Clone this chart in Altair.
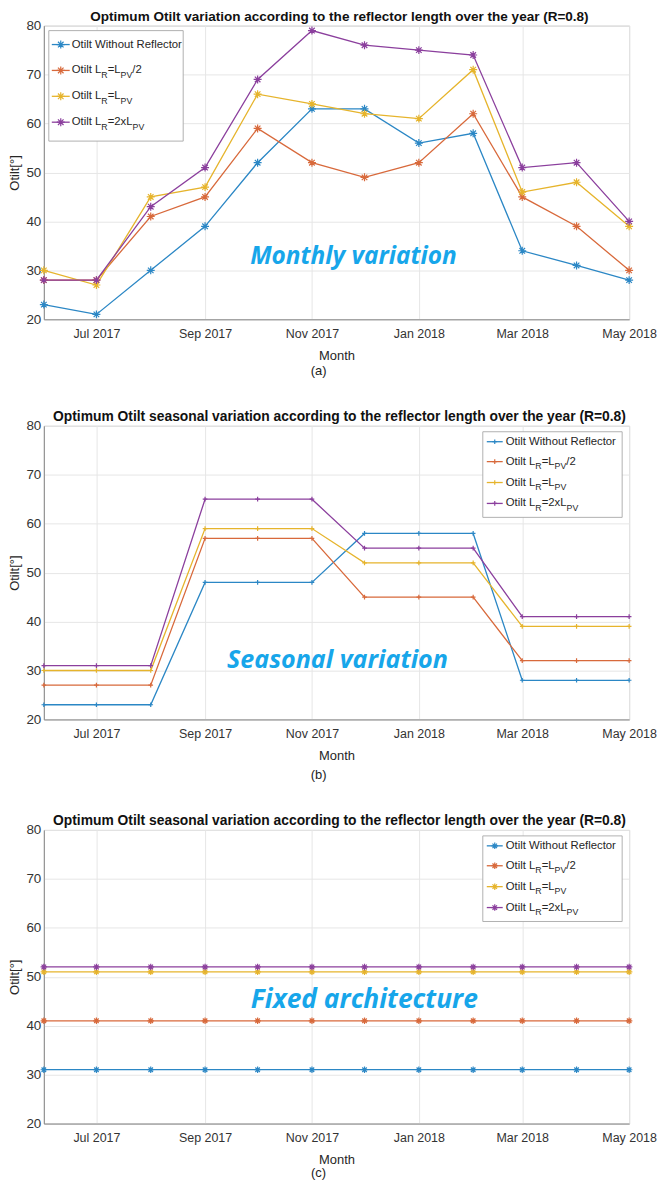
import altair as alt
import pandas as pd

# ---------------- data ----------------
months = ["2017-06-01", "2017-07-01", "2017-08-01", "2017-09-01", "2017-10-01", "2017-11-01",
          "2017-12-01", "2018-01-01", "2018-02-01", "2018-03-01", "2018-04-01", "2018-05-01"]
series_keys = ["s1", "s2", "s3", "s4"]
series_colors = ["#2b87c5", "#d8693b", "#e6b42c", "#8b3f9d"]
legend_labels = [
    [("Otilt Without Reflector", 0)],
    [("Otilt L", 0), ("R", 1), ("=L", 0), ("PV", 1), ("/2", 0)],
    [("Otilt L", 0), ("R", 1), ("=L", 0), ("PV", 1)],
    [("Otilt L", 0), ("R", 1), ("=2xL", 0), ("PV", 1)],
]

monthly_none = [23, 21, 30, 39, 52, 63, 63, 56, 58, 34, 31, 28]
monthly_half = [28, 28, 41, 45, 59, 52, 49, 52, 62, 45, 39, 30]
monthly_one = [30, 27, 45, 47, 66, 64, 62, 61, 71, 46, 48, 39]
monthly_two = [28, 28, 43, 51, 69, 79, 76, 75, 74, 51, 52, 40]

seasonal_none = [23, 23, 23, 48, 48, 48, 58, 58, 58, 28, 28, 28]
seasonal_half = [27, 27, 27, 57, 57, 57, 45, 45, 45, 32, 32, 32]
seasonal_one = [30, 30, 30, 59, 59, 59, 52, 52, 52, 39, 39, 39]
seasonal_two = [31, 31, 31, 65, 65, 65, 55, 55, 55, 41, 41, 41]

fixed_none = [31, 31, 31, 31, 31, 31, 31, 31, 31, 31, 31, 31]
fixed_half = [41, 41, 41, 41, 41, 41, 41, 41, 41, 41, 41, 41]
fixed_one = [51, 51, 51, 51, 51, 51, 51, 51, 51, 51, 51, 51]
fixed_two = [52, 52, 52, 52, 52, 52, 52, 52, 52, 52, 52, 52]

titles = [
    "Optimum Otilt variation according to the reflector length over the year (R=0.8)",
    "Optimum Otilt seasonal variation according to the reflector length over the year (R=0.8)",
    "Optimum Otilt seasonal variation according to the reflector length over the year (R=0.8)",
]
notes = ["Monthly variation", "Seasonal variation", "Fixed architecture"]
captions = ["(a)", "(b)", "(c)"]
x_tick_months = [(2017, 7), (2017, 9), (2017, 11), (2018, 1), (2018, 3), (2018, 5)]
y_ticks = [20, 30, 40, 50, 60, 70, 80]

# ---------------- style / layout ----------------
FONT = "Liberation Sans"
W, H = 588, 295
MAIN_FS, SUB_FS, SUB_DY = 11.4, 8.8, 4.5
ASTERISK = "M-1,0L1,0M0,-1L0,1M-0.7,-0.7L0.7,0.7M-0.7,0.7L0.7,-0.7"
PLUS = "M-1,0L1,0M0,-1L0,1"

ARIAL_W = {'O': 778, 't': 278, 'i': 222, 'l': 222, ' ': 278, 'L': 556, 'R': 722, '=': 584,
           'P': 667, 'V': 667, '/': 278, '2': 556, 'x': 500, 'W': 944, 'h': 556, 'o': 556,
           'u': 556, 'e': 556, 'f': 278, 'c': 500, 'r': 333}


def tw(s, size):
    return sum(ARIAL_W.get(c, 556) for c in s) / 1000.0 * size


color_scale = alt.Scale(domain=series_keys, range=series_colors)
one_row = pd.DataFrame({"a": [0]})


def make_df(vals):
    rows = []
    for k, series in zip(series_keys, vals):
        for m, v in zip(months, series):
            rows.append({"month": m + "T00:00:00", "key": k, "value": v})
    return pd.DataFrame(rows)


def panel(vals, title, title_fs, note, note_fs, note_xy, caption, cap_y, shape, msize, lg):
    df = make_df(vals)
    x = alt.X("month:T",
              scale=alt.Scale(domain=[alt.DateTime(year=2017, month=6, date=1),
                                      alt.DateTime(year=2018, month=5, date=1)], nice=False),
              axis=alt.Axis(values=[alt.DateTime(year=y, month=m, date=1) for y, m in x_tick_months],
                            format="%b %Y", title="Month", labelFlush=False, labelOverlap=False))
    y = alt.Y("value:Q", scale=alt.Scale(domain=[20, 80], nice=False),
              axis=alt.Axis(values=y_ticks, title="Otilt[°]"))
    color = alt.Color("key:N", scale=color_scale, legend=None)
    base = alt.Chart(df)
    lines = base.mark_line(strokeWidth=1.3).encode(x=x, y=y, color=color)
    pts = base.mark_point(shape=shape, filled=False, size=msize, strokeWidth=1.2, opacity=1).encode(
        x=x, y=y, color=color)

    # legend built from text marks (with subscripts)
    bx0, bx1, by0, by1 = lg["box"]
    box = alt.Chart(one_row).mark_rect(fill="white", stroke="#a8a8a8", strokeWidth=0.9).encode(
        x=alt.value(bx0), x2=alt.value(bx1), y=alt.value(by0), y2=alt.value(by1))
    main_rows, sub_rows, sym_rows = [], [], []
    for i, parts in enumerate(legend_labels):
        cx = lg["tx"]
        yy = lg["ys"][i]
        for txt, sub in parts:
            if sub:
                sub_rows.append({"px": cx, "py": yy + SUB_DY, "t": txt})
                cx += tw(txt, SUB_FS)
            else:
                main_rows.append({"px": cx, "py": yy, "t": txt})
                cx += tw(txt, MAIN_FS)
        sym_rows.append({"x0": lg["lx"][0], "x1": lg["lx"][1], "mx": lg["mx"], "py": yy,
                         "key": series_keys[i]})
    sym_df = pd.DataFrame(sym_rows)
    lrule = alt.Chart(sym_df).mark_rule(strokeWidth=1.3).encode(
        x=alt.X("x0:Q", scale=None), x2="x1:Q", y=alt.Y("py:Q", scale=None), color=color)
    lpts = alt.Chart(sym_df).mark_point(shape=shape, filled=False, size=msize, strokeWidth=1.2,
                                        opacity=1).encode(
        x=alt.X("mx:Q", scale=None), y=alt.Y("py:Q", scale=None), color=color)
    ltxt = alt.Chart(pd.DataFrame(main_rows)).mark_text(
        align="left", baseline="middle", font=FONT, fontSize=MAIN_FS, color="#262626").encode(
        x=alt.X("px:Q", scale=None), y=alt.Y("py:Q", scale=None), text="t:N")
    lsub = alt.Chart(pd.DataFrame(sub_rows)).mark_text(
        align="left", baseline="middle", font=FONT, fontSize=SUB_FS, color="#262626").encode(
        x=alt.X("px:Q", scale=None), y=alt.Y("py:Q", scale=None), text="t:N")

    note_mark = alt.Chart(one_row).mark_text(
        font="Open Sans", fontSize=note_fs, fontStyle="italic", fontWeight="bold", color="#17a6ea",
        align="center", baseline="middle", text=note).encode(
        x=alt.value(note_xy[0]), y=alt.value(note_xy[1]))
    cap_mark = alt.Chart(one_row).mark_text(
        font=FONT, fontSize=13, color="#222222", align="center", baseline="middle",
        text=caption).encode(x=alt.value(276), y=alt.value(cap_y))
    title_mark = alt.Chart(one_row).mark_text(
        font=FONT, fontSize=title_fs, fontWeight="bold", color="#111111", align="center",
        baseline="middle", text=title).encode(x=alt.value(297), y=alt.value(-9))

    return alt.layer(lines, pts, box, lrule, lpts, ltxt, lsub, note_mark, cap_mark,
                     title_mark).properties(width=W, height=H)


lg_a = {"box": (5, 140, 5, 116), "lx": (8, 26), "mx": 17, "tx": 28, "ys": [19, 45, 71, 97]}
lg_bc = {"box": (441, 581, 6, 92), "lx": (445, 461), "mx": 453, "tx": 464, "ys": [16, 36, 57, 78]}

pa = panel([monthly_none, monthly_half, monthly_one, monthly_two], titles[0], 13.6,
           notes[0], 24.5, (311, 232), captions[0], 347, ASTERISK, 64, lg_a)
pb = panel([seasonal_none, seasonal_half, seasonal_one, seasonal_two], titles[1], 13.9,
           notes[1], 25.2, (295, 235), captions[1], 351, PLUS, 22, lg_bc)
pc = panel([fixed_none, fixed_half, fixed_one, fixed_two], titles[2], 13.9,
           notes[2], 26.5, (322, 171), captions[2], 345, ASTERISK, 42, lg_bc)

chart = alt.vconcat(pa, pb, pc, spacing=30).properties(
    padding={"left": 0, "top": -2, "right": 0, "bottom": 0}
).configure_view(stroke="#bdbdbd", strokeWidth=1).configure_axis(
    labelFont=FONT, titleFont=FONT, labelFontSize=12.5, titleFontSize=13, titleFontWeight="normal",
    labelColor="#333333", titleColor="#262626", gridColor="#e6e6e6", domainColor="#8c8c8c",
    ticks=False, tickSize=0
).configure_axisX(labelPadding=8, titlePadding=10).configure_axisY(
    labelPadding=3, titlePadding=4, labelFontSize=13.5
)

chart.save("out.html", embed_options={"renderer": "svg", "actions": False})
